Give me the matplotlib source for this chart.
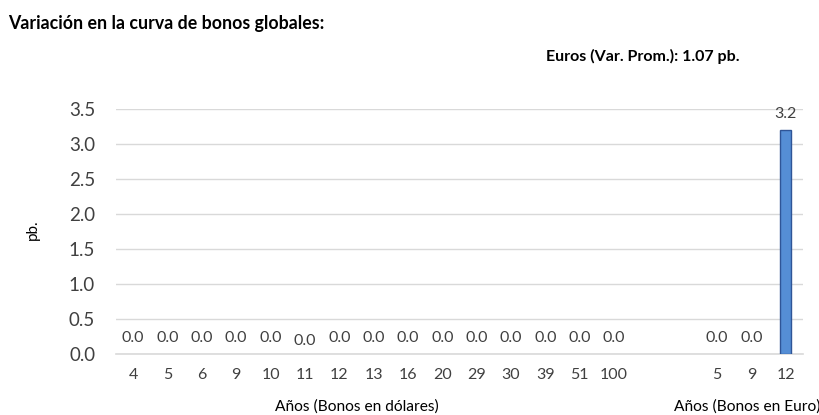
import matplotlib.pyplot as plt

plt.rcParams['font.family'] = ['Lato', 'DejaVu Sans']

dolar_anios = ['4', '5', '6', '9', '10', '11', '12', '13', '16', '20', '29', '30', '39', '51', '100']
dolar_var = [0.0] * 15
euro_anios = ['5', '9', '12']
euro_var = [0.0, 0.0, 3.2]
promedio_euro = 1.07

gris = '#404040'

fig = plt.figure(figsize=(8.2, 4.15), dpi=100)
ax = fig.add_axes([116/820, 1-354/415, 687/820, 245/415])

pos_d = list(range(len(dolar_anios)))
pos_e = [len(dolar_anios) + 2 + i for i in range(len(euro_anios))]
pos = pos_d + pos_e
vals = dolar_var + euro_var
etiquetas = dolar_anios + euro_anios

bordes = [0 if v == 0 else 1 for v in vals]
ax.bar(pos, vals, width=0.32, color='#558ED5', edgecolor='#2F5597', linewidth=bordes, zorder=3)

for i, (p, v) in enumerate(zip(pos, vals)):
    dy = 4.5 if i == 5 else 6.5  # la etiqueta del 11 sale un poco mas abajo
    ax.annotate(f'{v:.1f}', (p, v), xytext=(0, dy), textcoords='offset points',
                ha='center', va='bottom', fontsize=11.5, color=gris)

ax.set_xlim(-0.5, pos[-1] + 0.5)
ax.set_ylim(0, 3.5)
ax.set_yticks([0, 0.5, 1.0, 1.5, 2.0, 2.5, 3.0, 3.5])
ax.set_yticklabels([f'{t:.1f}' for t in ax.get_yticks()], fontsize=13.5, color=gris)
ax.set_xticks(pos)
ax.set_xticklabels(etiquetas, fontsize=11.5, color=gris)
ax.tick_params(length=0, axis='y', pad=15)
ax.tick_params(length=0, axis='x', pad=10)
ax.grid(axis='y', color='#d9d9d9', linewidth=1, zorder=0)
ax.axhline(0, color='#d9d9d9', linewidth=1.2, zorder=2, clip_on=False)
for s in ax.spines.values():
    s.set_visible(False)

fig.text(33/820, 1-230/415, 'pb.', fontsize=11, rotation=90, ha='center', va='center')

fig.text(8/820, 1-24/415, 'Variación en la curva de bonos globales:', fontsize=12.8,
         fontweight='bold', va='center', ha='left')
fig.text(740/820, 1-56/415, f'Euros (Var. Prom.): {promedio_euro:.2f} pb.', fontsize=11.5,
         fontweight='bold', va='center', ha='right')
fig.text(357/820, 1-407/415, 'Años (Bonos en dólares)', fontsize=11.2, ha='center', va='center')
fig.text(747/820, 1-407/415, 'Años (Bonos en Euro)', fontsize=11.2, ha='center', va='center')

fig.savefig('out.png', dpi=100)
